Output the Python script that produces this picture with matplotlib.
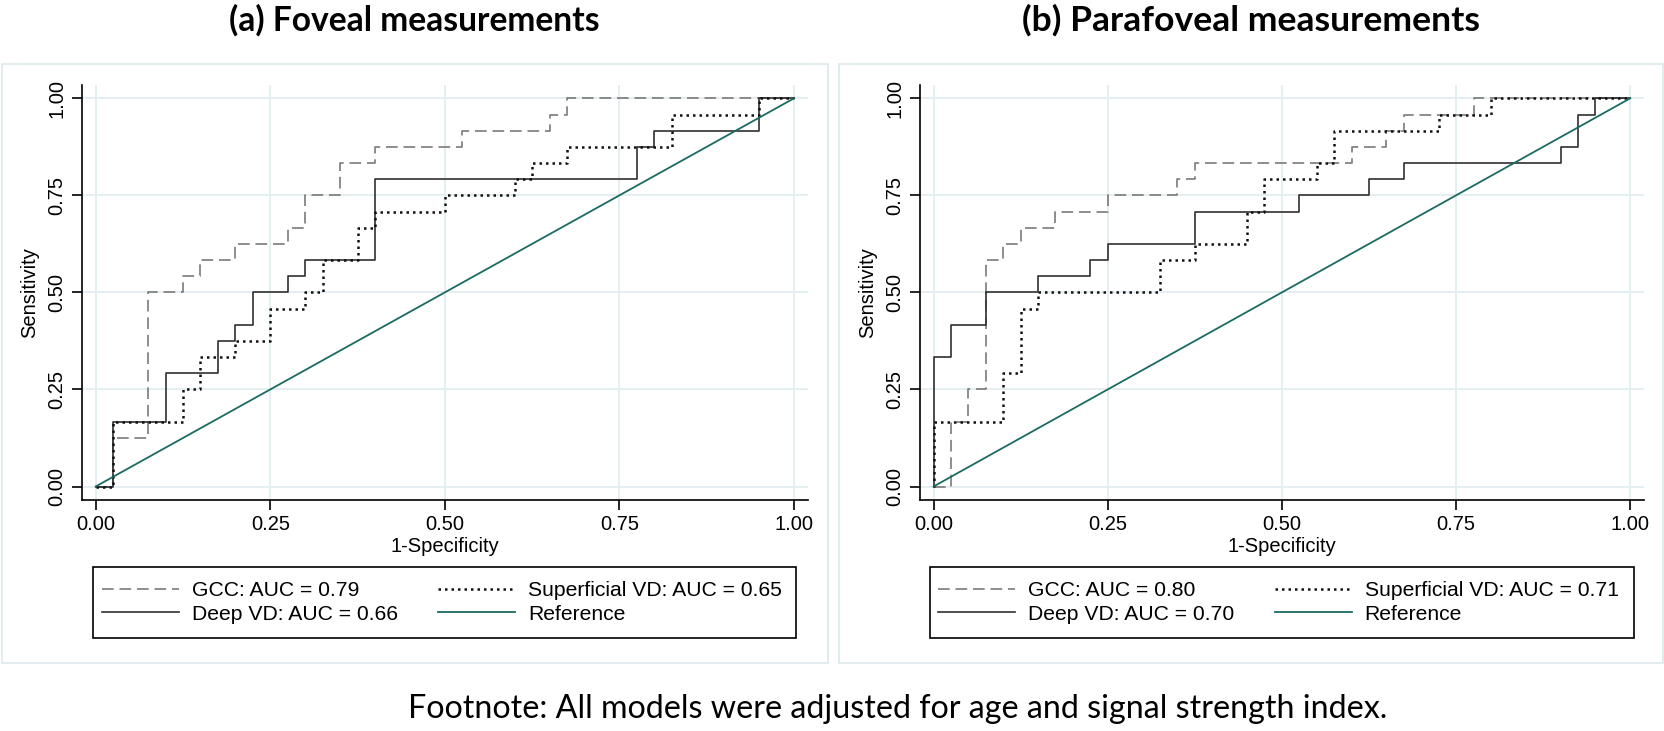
import matplotlib
matplotlib.use('Agg')
import matplotlib.pyplot as plt
from matplotlib.patches import Rectangle
import numpy as np

# ROC step vertices (1-specificity, sensitivity), drawn with steps-post
fov_gcc_x = [0, 0.025, 0.075, 0.125, 0.15, 0.2, 0.275, 0.3, 0.35, 0.4, 0.525, 0.65, 0.675, 1.0]
fov_gcc_y = [0, 0.125, 0.5, 0.542, 0.583, 0.625, 0.667, 0.75, 0.833, 0.875, 0.917, 0.958, 1.0, 1.0]
fov_deep_x = [0, 0.025, 0.1, 0.175, 0.2, 0.225, 0.275, 0.3, 0.4, 0.775, 0.8, 0.95, 1.0]
fov_deep_y = [0, 0.167, 0.292, 0.375, 0.417, 0.5, 0.542, 0.583, 0.792, 0.875, 0.917, 1.0, 1.0]
fov_sup_x = [0, 0.025, 0.125, 0.15, 0.2, 0.25, 0.3, 0.325, 0.375, 0.4, 0.5, 0.6, 0.625, 0.675, 0.825, 0.95, 1.0]
fov_sup_y = [0, 0.167, 0.25, 0.333, 0.375, 0.458, 0.5, 0.583, 0.667, 0.708, 0.75, 0.792, 0.833, 0.875, 0.958, 1.0, 1.0]

par_gcc_x = [0, 0.025, 0.05, 0.075, 0.1, 0.125, 0.175, 0.25, 0.35, 0.375, 0.6, 0.65, 0.675, 0.775, 1.0]
par_gcc_y = [0, 0.167, 0.25, 0.583, 0.625, 0.667, 0.708, 0.75, 0.792, 0.833, 0.875, 0.917, 0.958, 1.0, 1.0]
par_deep_x = [0, 0, 0.025, 0.075, 0.15, 0.225, 0.25, 0.375, 0.525, 0.625, 0.675, 0.9, 0.925, 0.95, 1.0]
par_deep_y = [0, 0.333, 0.417, 0.5, 0.542, 0.583, 0.625, 0.708, 0.75, 0.792, 0.833, 0.875, 0.958, 1.0, 1.0]
par_sup_x = [0, 0, 0.1, 0.125, 0.15, 0.325, 0.375, 0.45, 0.475, 0.55, 0.575, 0.725, 0.8, 1.0]
par_sup_y = [0, 0.167, 0.292, 0.458, 0.5, 0.583, 0.625, 0.708, 0.792, 0.833, 0.917, 0.958, 1.0, 1.0]

ref_x = [0, 1]
ref_y = [0, 1]

titles = ['(a) Foveal measurements', '(b) Parafoveal measurements']
auc_gcc = ['0.79', '0.80']
auc_deep = ['0.66', '0.70']
auc_sup = ['0.65', '0.71']
ticks = [0, 0.25, 0.5, 0.75, 1.0]
tick_labels = ['0.00', '0.25', '0.50', '0.75', '1.00']

W, H = 1665, 731
fig = plt.figure(figsize=(W / 100, H / 100), dpi=100)
plt.rcParams['font.family'] = ['Liberation Sans', 'DejaVu Sans']

grid_col = '#e3edf0'
gcc_col = '#7a7a7a'
deep_col = '#303030'
sup_col = '#111111'
ref_col = '#1b6b60'

panels = [
    (fov_gcc_x, fov_gcc_y, fov_deep_x, fov_deep_y, fov_sup_x, fov_sup_y),
    (par_gcc_x, par_gcc_y, par_deep_x, par_deep_y, par_sup_x, par_sup_y),
]
ax_left_px = [81.7, 919.6]
ax_right_px = [808.0, 1644.2]
frames_px = [(2, 828), (839, 1663)]
title_cx = [414, 1251]
title_w = [372, 458]
legend_box_px = [(93, 796), (930, 1634)]
legend_start_px = [102, 938]

def fx(px):
    return px / W

def fy(py):
    return 1 - py / H

renderer = fig.canvas.get_renderer()

for i, (gx, gy, dx, dy, sx, sy) in enumerate(panels):
    # light frame around each graph
    fl, fr = frames_px[i]
    fig.patches.append(Rectangle((fx(fl), fy(663)), fx(fr - fl), (663 - 64) / H,
                                 transform=fig.transFigure, fill=False,
                                 edgecolor='#dde7eb', linewidth=1.2))

    ax = fig.add_axes([fx(ax_left_px[i]), fy(500.1), fx(ax_right_px[i] - ax_left_px[i]),
                       (500.1 - 84.7) / H])
    ax.set_xlim(-0.02, 1.02)
    ax.set_ylim(-0.035, 1.035)
    for t in ticks:
        ax.axhline(t, color=grid_col, lw=1.3, zorder=0)
        ax.axvline(t, color=grid_col, lw=1.3, zorder=0)

    l_gcc, = ax.plot(gx, gy, drawstyle='steps-post', color=gcc_col, lw=1.2,
                     dashes=(7, 3.5), label='GCC: AUC = ' + auc_gcc[i])
    l_deep, = ax.plot(dx, dy, drawstyle='steps-post', color=deep_col, lw=1.2,
                      label='Deep VD: AUC = ' + auc_deep[i])
    l_sup, = ax.plot(sx, sy, drawstyle='steps-post', color=sup_col, lw=1.8,
                     dashes=(1, 1.6), label='Superficial VD: AUC = ' + auc_sup[i])
    l_ref, = ax.plot(ref_x, ref_y, color=ref_col, lw=1.3, label='Reference')

    ax.spines['top'].set_visible(False)
    ax.spines['right'].set_visible(False)
    ax.spines['left'].set_linewidth(1.2)
    ax.spines['bottom'].set_linewidth(1.2)
    ax.set_xticks(ticks)
    ax.set_xticklabels(tick_labels)
    ax.set_yticks(ticks)
    ax.set_yticklabels(tick_labels, rotation=90, va='center')
    ax.tick_params(axis='both', length=7, width=1.2, labelsize=14.5, pad=4)
    ax.set_xlabel('1-Specificity', fontsize=14.5, labelpad=2)
    ax.set_ylabel('Sensitivity', fontsize=14.5, labelpad=6)
    ax.set_facecolor('white')

    # legend box drawn separately so its width follows the plot, as in Stata
    bl, br = legend_box_px[i]
    fig.patches.append(Rectangle((fx(bl), fy(638)), fx(br - bl), (638 - 567) / H,
                                 transform=fig.transFigure, fill=False,
                                 edgecolor='black', linewidth=1.2))
    leg = fig.legend(handles=[l_gcc, l_deep, l_sup, l_ref], ncol=2,
                     loc='center left', bbox_to_anchor=(fx(legend_start_px[i]), fy(602.5)),
                     fontsize=15.2, frameon=False, handlelength=3.65, handletextpad=0.62,
                     borderpad=0.0, labelspacing=0.22, columnspacing=1.9, borderaxespad=0.0)

    tt = fig.text(fx(title_cx[i]), fy(20), titles[i], ha='center', va='center',
                  fontsize=24, fontweight='bold', family=['Lato', 'DejaVu Sans'])
    w = tt.get_window_extent(renderer).width
    tt.set_fontsize(24 * title_w[i] / w)

foot = fig.text(fx(898), fy(709), 'Footnote: All models were adjusted for age and signal strength index.',
                ha='center', va='center', fontsize=21, family=['Lato', 'DejaVu Sans'])
w = foot.get_window_extent(renderer).width
foot.set_fontsize(21 * 979 / w)

fig.savefig('out.png', dpi=100, facecolor='white')
